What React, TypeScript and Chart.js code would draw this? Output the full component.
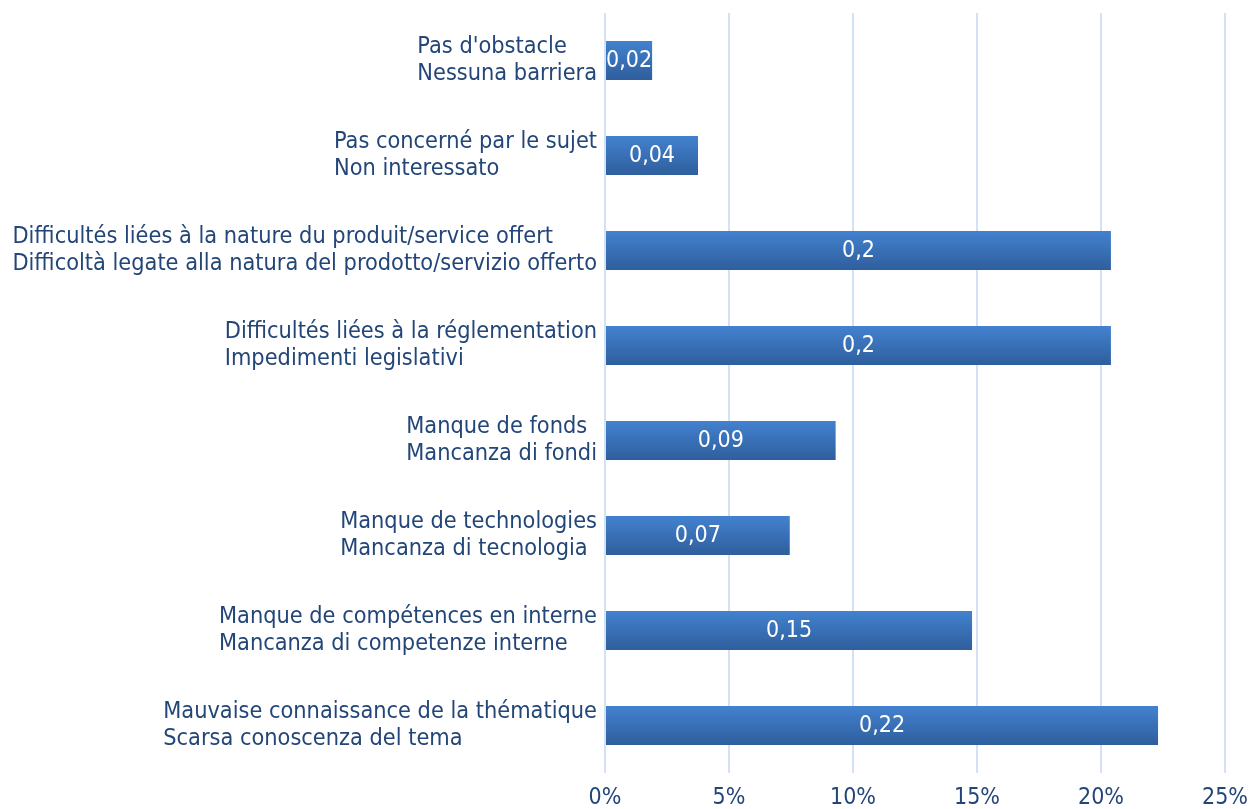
import React, { useEffect, useRef } from "react";
import { Chart, registerables } from "chart.js";

Chart.register(...registerables);

const categories: string[][] = [
  ["Pas d'obstacle", "Nessuna barriera"],
  ["Pas concerné par le sujet", "Non interessato"],
  ["Difficultés liées à la nature du produit/service offert", "Difficoltà legate alla natura del prodotto/servizio offerto"],
  ["Difficultés liées à la réglementation", "Impedimenti legislativi"],
  ["Manque de fonds", "Mancanza di fondi"],
  ["Manque de technologies", "Mancanza di tecnologia "],
  ["Manque de compétences en interne", "Mancanza di competenze interne"],
  ["Mauvaise connaissance de la thématique", "Scarsa conoscenza del tema"],
];
const values: number[] = [1.9, 3.75, 20.4, 20.4, 9.3, 7.45, 14.8, 22.3];
const valueLabels: string[] = ["0,02", "0,04", "0,2", "0,2", "0,09", "0,07", "0,15", "0,22"];
const xTicks: number[] = [0, 5, 10, 15, 20, 25];

const FONT = "'Liberation Sans Narrow', 'DejaVu Sans Condensed', sans-serif";
const TEXT = "#234679";

const labelPlugin = {
  id: "customLabels",
  afterDraw(chart: any) {
    const ctx = chart.ctx;
    const y = chart.scales.y;
    const x = chart.scales.x;
    ctx.save();
    ctx.font = `23.3px ${FONT}`;
    ctx.fillStyle = TEXT;
    ctx.textBaseline = "middle";
    ctx.textAlign = "left";
    categories.forEach((lines, i) => {
      const cy = y.getPixelForValue(i);
      const w = Math.max(...lines.map((l) => ctx.measureText(l.trimEnd()).width));
      const lx = x.left - 8 - w;
      ctx.fillText(lines[0], lx, cy - 14);
      ctx.fillText(lines[1], lx, cy + 13);
    });
    ctx.fillStyle = "#ffffff";
    ctx.textAlign = "center";
    ctx.font = `23px ${FONT}`;
    const meta = chart.getDatasetMeta(0);
    meta.data.forEach((bar: any, i: number) => {
      const cx = (bar.base + bar.x) / 2;
      ctx.fillText(valueLabels[i], cx, bar.y + 1);
    });
    ctx.restore();
  },
};

export default function App() {
  const ref = useRef<HTMLCanvasElement>(null);
  useEffect(() => {
    const chart = new Chart(ref.current!, {
      type: "bar",
      data: {
        labels: categories.map((c) => c.join(" ")),
        datasets: [
          {
            data: values,
            backgroundColor: (context: any) => {
              const ch = context.chart;
              const ys = ch.scales && ch.scales.y;
              if (!ys || context.dataIndex === undefined) return "#3a70b8";
              const cy = ys.getPixelForValue(context.dataIndex);
              if (!Number.isFinite(cy)) return "#3a70b8";
              const g = ch.ctx.createLinearGradient(0, cy - 20, 0, cy + 20);
              g.addColorStop(0, "#4382d0");
              g.addColorStop(1, "#2e5e9c");
              return g;
            },
            borderWidth: 0,
            barPercentage: 0.41,
            categoryPercentage: 1,
          },
        ],
      },
      options: {
        indexAxis: "y",
        animation: false,
        responsive: true,
        maintainAspectRatio: false,
        layout: { padding: { top: 13, right: 34, left: 0, bottom: 0 } },
        plugins: { legend: { display: false }, tooltip: { enabled: false } },
        scales: {
          x: {
            min: 0,
            max: 25,
            afterBuildTicks: (s: any) => {
              s.ticks = xTicks.map((v) => ({ value: v }));
            },
            afterFit: (s: any) => {
              s.height = 36;
            },
            grid: { color: "#d3e1f4", lineWidth: 2, drawTicks: false },
            border: { display: false },
            ticks: {
              color: TEXT,
              font: { family: FONT, size: 23 },
              padding: 11,
              callback: (v: any) => `${v}%`,
            },
          },
          y: {
            afterFit: (s: any) => {
              s.width = 605;
            },
            grid: { display: false, drawTicks: false },
            border: { display: false },
            ticks: { display: false },
          },
        },
      },
      plugins: [labelPlugin],
    } as any);
    return () => chart.destroy();
  }, []);
  return (
    <div style={{ position: "fixed", left: 0, top: 0, width: 1259, height: 809, background: "#fff" }}>
      <canvas ref={ref} />
    </div>
  );
}
